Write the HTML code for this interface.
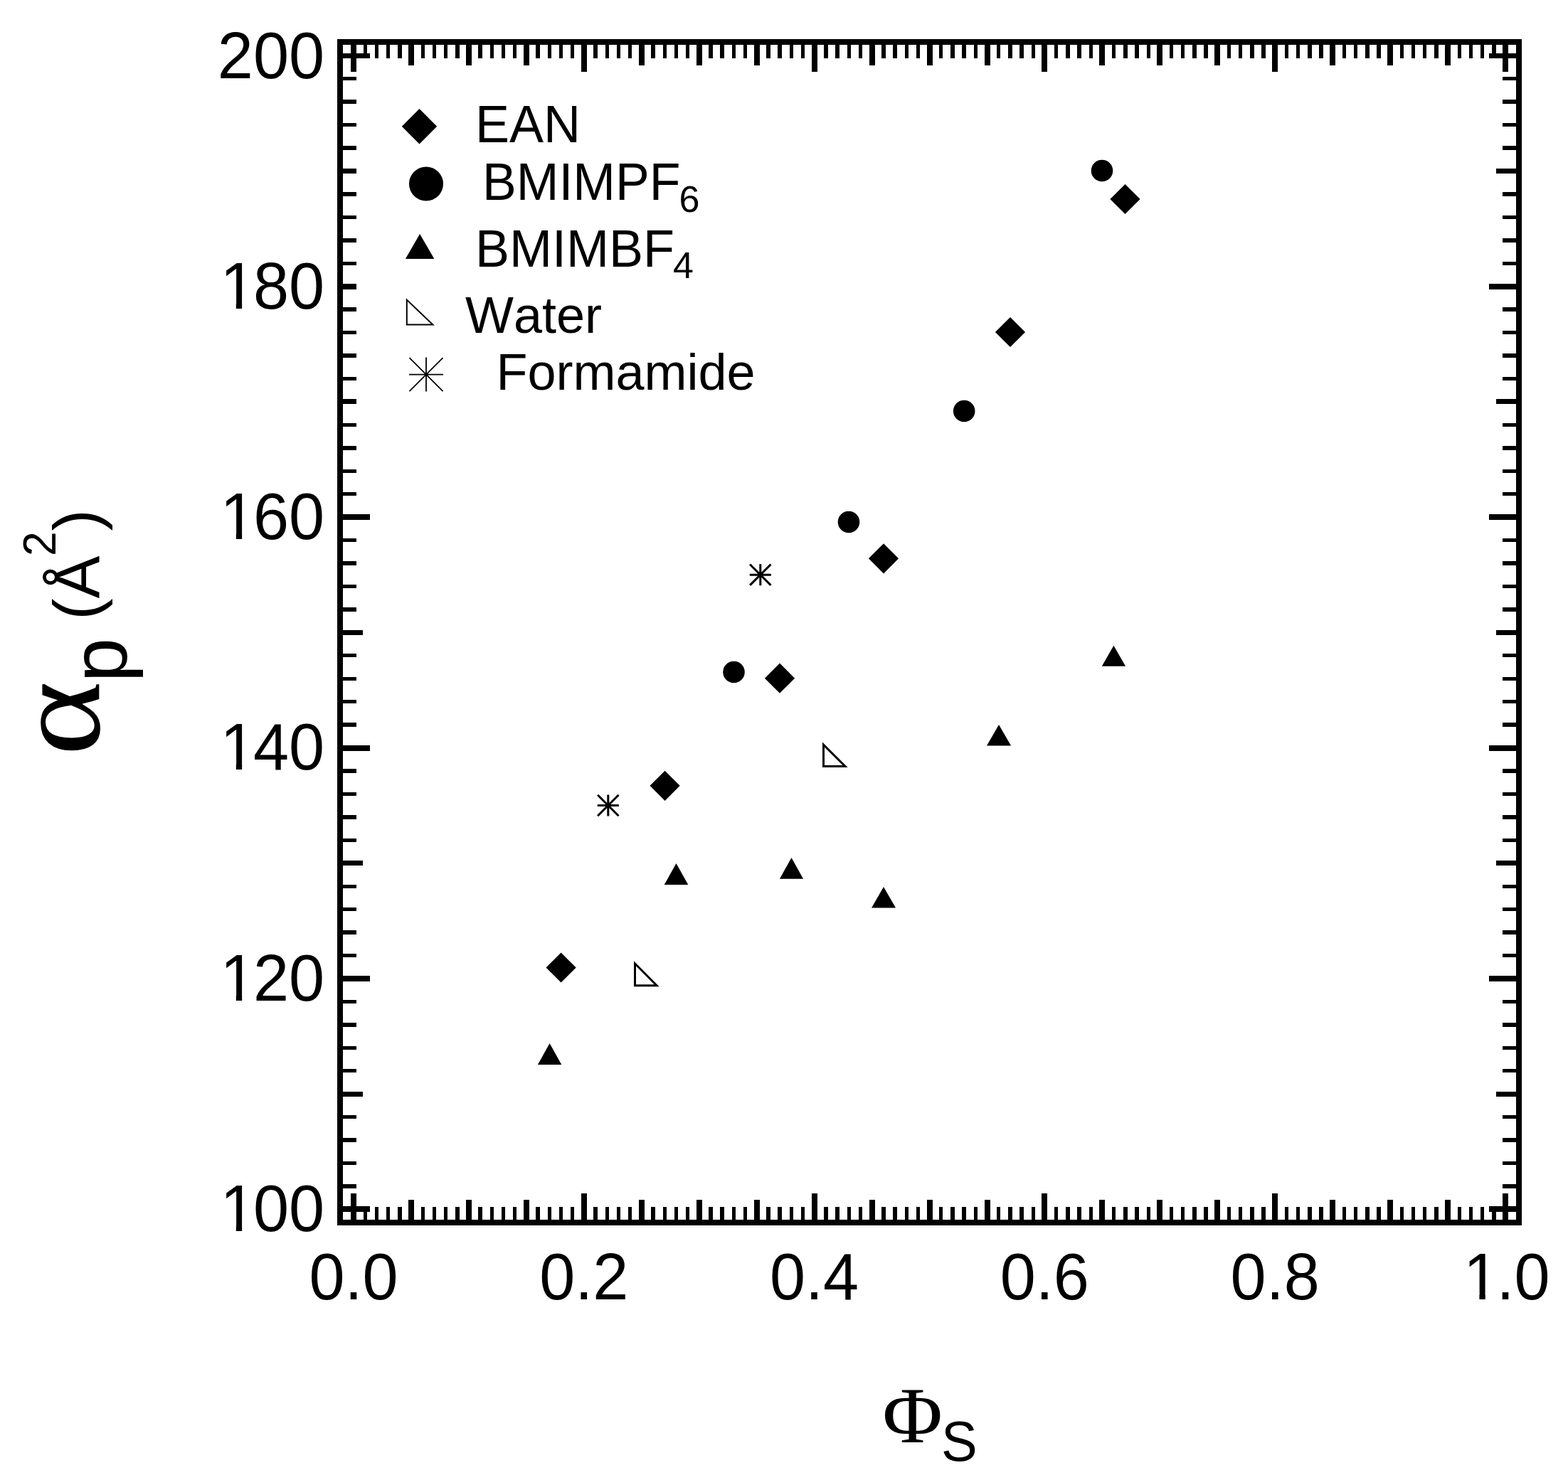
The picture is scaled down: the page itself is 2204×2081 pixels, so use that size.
<!DOCTYPE html>
<html lang="en"><head><meta charset="utf-8"><title>Plot</title>
<style>html,body{margin:0;padding:0;background:#fff}body{width:2204px;height:2081px;overflow:hidden}svg{display:block}text{font-family:"Liberation Sans",sans-serif;fill:#000;font-kerning:none}.sym{font-family:"Liberation Serif",serif}</style>
</head><body>
<svg width="2204" height="2081" viewBox="0 0 2204 2081">
<defs><clipPath id="nofoot"><path clip-rule="evenodd" d="M-20 -100H400V30H-20ZM8 -7.9H26.05V4H8ZM34.35 -7.9H51V4H34.35Z"/></clipPath></defs>
<rect x="0" y="0" width="2204" height="2081" fill="#fff"/>
<g shape-rendering="crispEdges" fill="#000">
<rect x="474" y="55" width="1665" height="8"/>
<rect x="474" y="1715" width="1665" height="8"/>
<rect x="474" y="55" width="8" height="1668"/>
<rect x="2131" y="55" width="8" height="1668"/>
<rect x="493" y="63" width="8" height="38"/>
<rect x="493" y="1678" width="8" height="37"/>
<rect x="511" y="63" width="5" height="19"/>
<rect x="511" y="1697" width="5" height="18"/>
<rect x="527" y="63" width="5" height="19"/>
<rect x="527" y="1697" width="5" height="18"/>
<rect x="543" y="63" width="5" height="19"/>
<rect x="543" y="1697" width="5" height="18"/>
<rect x="559" y="63" width="6" height="19"/>
<rect x="559" y="1697" width="6" height="18"/>
<rect x="574" y="63" width="8" height="29"/>
<rect x="574" y="1687" width="8" height="28"/>
<rect x="592" y="63" width="5" height="19"/>
<rect x="592" y="1697" width="5" height="18"/>
<rect x="608" y="63" width="5" height="19"/>
<rect x="608" y="1697" width="5" height="18"/>
<rect x="624" y="63" width="5" height="19"/>
<rect x="624" y="1697" width="5" height="18"/>
<rect x="640" y="63" width="6" height="19"/>
<rect x="640" y="1697" width="6" height="18"/>
<rect x="655" y="63" width="8" height="29"/>
<rect x="655" y="1687" width="8" height="28"/>
<rect x="672" y="63" width="6" height="19"/>
<rect x="672" y="1697" width="6" height="18"/>
<rect x="689" y="63" width="5" height="19"/>
<rect x="689" y="1697" width="5" height="18"/>
<rect x="705" y="63" width="5" height="19"/>
<rect x="705" y="1697" width="5" height="18"/>
<rect x="721" y="63" width="5" height="19"/>
<rect x="721" y="1697" width="5" height="18"/>
<rect x="736" y="63" width="8" height="29"/>
<rect x="736" y="1687" width="8" height="28"/>
<rect x="753" y="63" width="6" height="19"/>
<rect x="753" y="1697" width="6" height="18"/>
<rect x="770" y="63" width="5" height="19"/>
<rect x="770" y="1697" width="5" height="18"/>
<rect x="786" y="63" width="5" height="19"/>
<rect x="786" y="1697" width="5" height="18"/>
<rect x="802" y="63" width="5" height="19"/>
<rect x="802" y="1697" width="5" height="18"/>
<rect x="817" y="63" width="8" height="38"/>
<rect x="817" y="1678" width="8" height="37"/>
<rect x="834" y="63" width="6" height="19"/>
<rect x="834" y="1697" width="6" height="18"/>
<rect x="851" y="63" width="5" height="19"/>
<rect x="851" y="1697" width="5" height="18"/>
<rect x="867" y="63" width="5" height="19"/>
<rect x="867" y="1697" width="5" height="18"/>
<rect x="883" y="63" width="5" height="19"/>
<rect x="883" y="1697" width="5" height="18"/>
<rect x="898" y="63" width="8" height="29"/>
<rect x="898" y="1687" width="8" height="28"/>
<rect x="915" y="63" width="6" height="19"/>
<rect x="915" y="1697" width="6" height="18"/>
<rect x="932" y="63" width="5" height="19"/>
<rect x="932" y="1697" width="5" height="18"/>
<rect x="948" y="63" width="5" height="19"/>
<rect x="948" y="1697" width="5" height="18"/>
<rect x="964" y="63" width="5" height="19"/>
<rect x="964" y="1697" width="5" height="18"/>
<rect x="979" y="63" width="8" height="29"/>
<rect x="979" y="1687" width="8" height="28"/>
<rect x="996" y="63" width="6" height="19"/>
<rect x="996" y="1697" width="6" height="18"/>
<rect x="1012" y="63" width="6" height="19"/>
<rect x="1012" y="1697" width="6" height="18"/>
<rect x="1029" y="63" width="5" height="19"/>
<rect x="1029" y="1697" width="5" height="18"/>
<rect x="1045" y="63" width="5" height="19"/>
<rect x="1045" y="1697" width="5" height="18"/>
<rect x="1060" y="63" width="8" height="29"/>
<rect x="1060" y="1687" width="8" height="28"/>
<rect x="1077" y="63" width="6" height="19"/>
<rect x="1077" y="1697" width="6" height="18"/>
<rect x="1093" y="63" width="6" height="19"/>
<rect x="1093" y="1697" width="6" height="18"/>
<rect x="1110" y="63" width="5" height="19"/>
<rect x="1110" y="1697" width="5" height="18"/>
<rect x="1126" y="63" width="5" height="19"/>
<rect x="1126" y="1697" width="5" height="18"/>
<rect x="1141" y="63" width="8" height="38"/>
<rect x="1141" y="1678" width="8" height="37"/>
<rect x="1158" y="63" width="6" height="19"/>
<rect x="1158" y="1697" width="6" height="18"/>
<rect x="1174" y="63" width="6" height="19"/>
<rect x="1174" y="1697" width="6" height="18"/>
<rect x="1191" y="63" width="5" height="19"/>
<rect x="1191" y="1697" width="5" height="18"/>
<rect x="1207" y="63" width="5" height="19"/>
<rect x="1207" y="1697" width="5" height="18"/>
<rect x="1222" y="63" width="8" height="29"/>
<rect x="1222" y="1687" width="8" height="28"/>
<rect x="1239" y="63" width="6" height="19"/>
<rect x="1239" y="1697" width="6" height="18"/>
<rect x="1255" y="63" width="6" height="19"/>
<rect x="1255" y="1697" width="6" height="18"/>
<rect x="1272" y="63" width="5" height="19"/>
<rect x="1272" y="1697" width="5" height="18"/>
<rect x="1288" y="63" width="5" height="19"/>
<rect x="1288" y="1697" width="5" height="18"/>
<rect x="1303" y="63" width="8" height="29"/>
<rect x="1303" y="1687" width="8" height="28"/>
<rect x="1320" y="63" width="5" height="19"/>
<rect x="1320" y="1697" width="5" height="18"/>
<rect x="1336" y="63" width="6" height="19"/>
<rect x="1336" y="1697" width="6" height="18"/>
<rect x="1352" y="63" width="6" height="19"/>
<rect x="1352" y="1697" width="6" height="18"/>
<rect x="1369" y="63" width="5" height="19"/>
<rect x="1369" y="1697" width="5" height="18"/>
<rect x="1384" y="63" width="8" height="29"/>
<rect x="1384" y="1687" width="8" height="28"/>
<rect x="1401" y="63" width="5" height="19"/>
<rect x="1401" y="1697" width="5" height="18"/>
<rect x="1417" y="63" width="6" height="19"/>
<rect x="1417" y="1697" width="6" height="18"/>
<rect x="1433" y="63" width="6" height="19"/>
<rect x="1433" y="1697" width="6" height="18"/>
<rect x="1450" y="63" width="5" height="19"/>
<rect x="1450" y="1697" width="5" height="18"/>
<rect x="1464" y="63" width="8" height="38"/>
<rect x="1464" y="1678" width="8" height="37"/>
<rect x="1482" y="63" width="5" height="19"/>
<rect x="1482" y="1697" width="5" height="18"/>
<rect x="1498" y="63" width="6" height="19"/>
<rect x="1498" y="1697" width="6" height="18"/>
<rect x="1514" y="63" width="6" height="19"/>
<rect x="1514" y="1697" width="6" height="18"/>
<rect x="1531" y="63" width="5" height="19"/>
<rect x="1531" y="1697" width="5" height="18"/>
<rect x="1545" y="63" width="8" height="29"/>
<rect x="1545" y="1687" width="8" height="28"/>
<rect x="1563" y="63" width="5" height="19"/>
<rect x="1563" y="1697" width="5" height="18"/>
<rect x="1579" y="63" width="6" height="19"/>
<rect x="1579" y="1697" width="6" height="18"/>
<rect x="1595" y="63" width="6" height="19"/>
<rect x="1595" y="1697" width="6" height="18"/>
<rect x="1612" y="63" width="5" height="19"/>
<rect x="1612" y="1697" width="5" height="18"/>
<rect x="1626" y="63" width="8" height="29"/>
<rect x="1626" y="1687" width="8" height="28"/>
<rect x="1644" y="63" width="5" height="19"/>
<rect x="1644" y="1697" width="5" height="18"/>
<rect x="1660" y="63" width="5" height="19"/>
<rect x="1660" y="1697" width="5" height="18"/>
<rect x="1676" y="63" width="6" height="19"/>
<rect x="1676" y="1697" width="6" height="18"/>
<rect x="1692" y="63" width="6" height="19"/>
<rect x="1692" y="1697" width="6" height="18"/>
<rect x="1707" y="63" width="8" height="29"/>
<rect x="1707" y="1687" width="8" height="28"/>
<rect x="1725" y="63" width="5" height="19"/>
<rect x="1725" y="1697" width="5" height="18"/>
<rect x="1741" y="63" width="5" height="19"/>
<rect x="1741" y="1697" width="5" height="18"/>
<rect x="1757" y="63" width="6" height="19"/>
<rect x="1757" y="1697" width="6" height="18"/>
<rect x="1773" y="63" width="6" height="19"/>
<rect x="1773" y="1697" width="6" height="18"/>
<rect x="1788" y="63" width="8" height="38"/>
<rect x="1788" y="1678" width="8" height="37"/>
<rect x="1806" y="63" width="5" height="19"/>
<rect x="1806" y="1697" width="5" height="18"/>
<rect x="1822" y="63" width="5" height="19"/>
<rect x="1822" y="1697" width="5" height="18"/>
<rect x="1838" y="63" width="6" height="19"/>
<rect x="1838" y="1697" width="6" height="18"/>
<rect x="1854" y="63" width="6" height="19"/>
<rect x="1854" y="1697" width="6" height="18"/>
<rect x="1869" y="63" width="8" height="29"/>
<rect x="1869" y="1687" width="8" height="28"/>
<rect x="1887" y="63" width="5" height="19"/>
<rect x="1887" y="1697" width="5" height="18"/>
<rect x="1903" y="63" width="5" height="19"/>
<rect x="1903" y="1697" width="5" height="18"/>
<rect x="1919" y="63" width="6" height="19"/>
<rect x="1919" y="1697" width="6" height="18"/>
<rect x="1935" y="63" width="6" height="19"/>
<rect x="1935" y="1697" width="6" height="18"/>
<rect x="1950" y="63" width="8" height="29"/>
<rect x="1950" y="1687" width="8" height="28"/>
<rect x="1968" y="63" width="5" height="19"/>
<rect x="1968" y="1697" width="5" height="18"/>
<rect x="1984" y="63" width="5" height="19"/>
<rect x="1984" y="1697" width="5" height="18"/>
<rect x="2000" y="63" width="5" height="19"/>
<rect x="2000" y="1697" width="5" height="18"/>
<rect x="2016" y="63" width="6" height="19"/>
<rect x="2016" y="1697" width="6" height="18"/>
<rect x="2031" y="63" width="8" height="29"/>
<rect x="2031" y="1687" width="8" height="28"/>
<rect x="2049" y="63" width="5" height="19"/>
<rect x="2049" y="1697" width="5" height="18"/>
<rect x="2065" y="63" width="5" height="19"/>
<rect x="2065" y="1697" width="5" height="18"/>
<rect x="2081" y="63" width="5" height="19"/>
<rect x="2081" y="1697" width="5" height="18"/>
<rect x="2097" y="63" width="6" height="19"/>
<rect x="2097" y="1697" width="6" height="18"/>
<rect x="2112" y="63" width="8" height="38"/>
<rect x="2112" y="1678" width="8" height="37"/>
<rect x="482" y="1696" width="38" height="8"/>
<rect x="2093" y="1696" width="38" height="8"/>
<rect x="482" y="1665" width="19" height="6"/>
<rect x="2112" y="1665" width="19" height="6"/>
<rect x="482" y="1633" width="19" height="5"/>
<rect x="2112" y="1633" width="19" height="5"/>
<rect x="482" y="1600" width="19" height="6"/>
<rect x="2112" y="1600" width="19" height="6"/>
<rect x="482" y="1568" width="19" height="5"/>
<rect x="2112" y="1568" width="19" height="5"/>
<rect x="482" y="1535" width="28" height="7"/>
<rect x="2103" y="1535" width="28" height="7"/>
<rect x="482" y="1503" width="19" height="5"/>
<rect x="2112" y="1503" width="19" height="5"/>
<rect x="482" y="1471" width="19" height="5"/>
<rect x="2112" y="1471" width="19" height="5"/>
<rect x="482" y="1438" width="19" height="6"/>
<rect x="2112" y="1438" width="19" height="6"/>
<rect x="482" y="1406" width="19" height="5"/>
<rect x="2112" y="1406" width="19" height="5"/>
<rect x="482" y="1372" width="38" height="8"/>
<rect x="2093" y="1372" width="38" height="8"/>
<rect x="482" y="1341" width="19" height="5"/>
<rect x="2112" y="1341" width="19" height="5"/>
<rect x="482" y="1308" width="19" height="6"/>
<rect x="2112" y="1308" width="19" height="6"/>
<rect x="482" y="1276" width="19" height="5"/>
<rect x="2112" y="1276" width="19" height="5"/>
<rect x="482" y="1244" width="19" height="5"/>
<rect x="2112" y="1244" width="19" height="5"/>
<rect x="482" y="1210" width="28" height="7"/>
<rect x="2103" y="1210" width="28" height="7"/>
<rect x="482" y="1179" width="19" height="5"/>
<rect x="2112" y="1179" width="19" height="5"/>
<rect x="482" y="1146" width="19" height="6"/>
<rect x="2112" y="1146" width="19" height="6"/>
<rect x="482" y="1114" width="19" height="5"/>
<rect x="2112" y="1114" width="19" height="5"/>
<rect x="482" y="1081" width="19" height="6"/>
<rect x="2112" y="1081" width="19" height="6"/>
<rect x="482" y="1048" width="38" height="8"/>
<rect x="2093" y="1048" width="38" height="8"/>
<rect x="482" y="1016" width="19" height="6"/>
<rect x="2112" y="1016" width="19" height="6"/>
<rect x="482" y="984" width="19" height="5"/>
<rect x="2112" y="984" width="19" height="5"/>
<rect x="482" y="952" width="19" height="5"/>
<rect x="2112" y="952" width="19" height="5"/>
<rect x="482" y="919" width="19" height="5"/>
<rect x="2112" y="919" width="19" height="5"/>
<rect x="482" y="886" width="28" height="7"/>
<rect x="2103" y="886" width="28" height="7"/>
<rect x="482" y="854" width="19" height="6"/>
<rect x="2112" y="854" width="19" height="6"/>
<rect x="482" y="822" width="19" height="5"/>
<rect x="2112" y="822" width="19" height="5"/>
<rect x="482" y="789" width="19" height="6"/>
<rect x="2112" y="789" width="19" height="6"/>
<rect x="482" y="757" width="19" height="5"/>
<rect x="2112" y="757" width="19" height="5"/>
<rect x="482" y="723" width="38" height="8"/>
<rect x="2093" y="723" width="38" height="8"/>
<rect x="482" y="692" width="19" height="5"/>
<rect x="2112" y="692" width="19" height="5"/>
<rect x="482" y="660" width="19" height="5"/>
<rect x="2112" y="660" width="19" height="5"/>
<rect x="482" y="627" width="19" height="6"/>
<rect x="2112" y="627" width="19" height="6"/>
<rect x="482" y="595" width="19" height="5"/>
<rect x="2112" y="595" width="19" height="5"/>
<rect x="482" y="561" width="28" height="7"/>
<rect x="2103" y="561" width="28" height="7"/>
<rect x="482" y="530" width="19" height="5"/>
<rect x="2112" y="530" width="19" height="5"/>
<rect x="482" y="497" width="19" height="6"/>
<rect x="2112" y="497" width="19" height="6"/>
<rect x="482" y="465" width="19" height="5"/>
<rect x="2112" y="465" width="19" height="5"/>
<rect x="482" y="432" width="19" height="6"/>
<rect x="2112" y="432" width="19" height="6"/>
<rect x="482" y="399" width="38" height="8"/>
<rect x="2093" y="399" width="38" height="8"/>
<rect x="482" y="368" width="19" height="5"/>
<rect x="2112" y="368" width="19" height="5"/>
<rect x="482" y="335" width="19" height="6"/>
<rect x="2112" y="335" width="19" height="6"/>
<rect x="482" y="303" width="19" height="5"/>
<rect x="2112" y="303" width="19" height="5"/>
<rect x="482" y="270" width="19" height="6"/>
<rect x="2112" y="270" width="19" height="6"/>
<rect x="482" y="237" width="28" height="7"/>
<rect x="2103" y="237" width="28" height="7"/>
<rect x="482" y="205" width="19" height="6"/>
<rect x="2112" y="205" width="19" height="6"/>
<rect x="482" y="173" width="19" height="5"/>
<rect x="2112" y="173" width="19" height="5"/>
<rect x="482" y="140" width="19" height="6"/>
<rect x="2112" y="140" width="19" height="6"/>
<rect x="482" y="108" width="19" height="5"/>
<rect x="2112" y="108" width="19" height="5"/>
<rect x="482" y="75" width="38" height="7"/>
<rect x="2093" y="75" width="38" height="7"/>
</g>
<text transform="translate(305.8 1731.0) scale(1 1.04)" x="3.6 50.1 100.1" y="0" font-size="90" clip-path="url(#nofoot)">100</text>
<text transform="translate(305.8 1406.7) scale(1 1.04)" x="3.6 50.1 100.1" y="0" font-size="90" clip-path="url(#nofoot)">120</text>
<text transform="translate(305.8 1082.4) scale(1 1.04)" x="3.6 50.1 100.1" y="0" font-size="90" clip-path="url(#nofoot)">140</text>
<text transform="translate(305.8 758.1) scale(1 1.04)" x="3.6 50.1 100.1" y="0" font-size="90" clip-path="url(#nofoot)">160</text>
<text transform="translate(305.8 433.8) scale(1 1.04)" x="3.6 50.1 100.1" y="0" font-size="90" clip-path="url(#nofoot)">180</text>
<text transform="translate(456.0 109.5) scale(1.0 1.04)" font-size="90" text-anchor="end">200</text>
<text transform="translate(434.4 1827.0) scale(1.0 1.04)" font-size="90">0.0</text>
<text transform="translate(758.2 1827.0) scale(1.0 1.04)" font-size="90">0.2</text>
<text transform="translate(1082.0 1827.0) scale(1.0 1.04)" font-size="90">0.4</text>
<text transform="translate(1405.8 1827.0) scale(1.0 1.04)" font-size="90">0.6</text>
<text transform="translate(1729.6 1827.0) scale(1.0 1.04)" font-size="90">0.8</text>
<text transform="translate(2053.4 1827.0) scale(1 1.04)" x="3.6 50.1 75.1" y="0" font-size="90" clip-path="url(#nofoot)">1.0</text>
<text transform="translate(1240.5 2028.0) scale(1.03 1.0)" font-size="112" class="sym">Φ</text>
<text transform="translate(1323.0 2054.0) scale(1.0 1.04)" font-size="76">S</text>
<g transform="translate(140,1060) rotate(-90)">
<text transform="translate(-3.0 -0.7) scale(1.156 1.0)" font-size="174.5" class="sym">α</text>
<text x="100.7" y="38.0" font-size="112">p</text>
<text x="188.5" y="-1.0" font-size="90">(</text>
<text x="218.5" y="-1.0" font-size="90">Å</text>
<text transform="translate(278.0 -62.0) scale(1.0 1.04)" font-size="62.5">2</text>
<text x="313.5" y="-1.0" font-size="90">)</text>
</g>
<rect x="501" y="102" width="600" height="500" fill="#fff" shape-rendering="crispEdges"/>
<g fill="#000">
<path d="M564.8 177.7L589.5 152.9L614.2 177.7L589.5 202.4Z"/>
<circle cx="599" cy="258.5" r="24"/>
<path d="M569.9 364.0L590.1 329.0L610.4 364.0Z"/>
<path d="M571.8 421.5L571.8 456.6L608.4 456.6Z" fill="none" stroke="#000" stroke-width="2" stroke-linejoin="miter"/>
<path d="M575.0 526.6H623.0M599.0 502.6V550.6M575.5 503.1L622.5 550.1M575.5 550.1L622.5 503.1" fill="none" stroke="#000" stroke-width="1.8"/>
</g>
<text transform="translate(668.0 200.0) scale(1.0 1.04)" font-size="72">EAN</text>
<text transform="translate(678.0 281.0) scale(0.995 1.04)" font-size="72">BMIMPF</text>
<text x="954.5" y="297.5" font-size="52">6</text>
<text transform="translate(668.0 374.6) scale(1.0 1.04)" font-size="72">BMIMBF</text>
<text x="946.0" y="391.0" font-size="52">4</text>
<text x="654.0" y="468.2" font-size="72">Water</text>
<text x="697.5" y="548.2" font-size="72">Formamide</text>
<g fill="#000">
<path d="M1560.4 280.0L1581.5 258.9L1602.6 280.0L1581.5 301.1Z"/>
<path d="M1398.9 467.0L1420.0 445.9L1441.1 467.0L1420.0 488.1Z"/>
<path d="M1220.9 785.3L1242.0 764.2L1263.1 785.3L1242.0 806.4Z"/>
<path d="M1074.9 953.7L1096.0 932.6L1117.1 953.7L1096.0 974.8Z"/>
<path d="M913.5 1104.8L934.6 1083.7L955.7 1104.8L934.6 1125.9Z"/>
<path d="M767.5 1360.5L788.6 1339.4L809.7 1360.5L788.6 1381.6Z"/>
<circle cx="1549" cy="240" r="15.3"/>
<circle cx="1355.2" cy="578" r="15.3"/>
<circle cx="1193" cy="734" r="15.3"/>
<circle cx="1031.5" cy="945" r="15.3"/>
<path d="M1548.8 936.8L1565.4 907.8L1582.1 936.8Z"/>
<path d="M1387.0 1048.5L1404.0 1018.9L1421.1 1048.5Z"/>
<path d="M1095.9 1235.7L1112.5 1206.1L1129.1 1235.7Z"/>
<path d="M1225.1 1276.5L1242.0 1246.9L1259.0 1276.5Z"/>
<path d="M933.7 1243.9L950.5 1214.0L967.3 1243.9Z"/>
<path d="M755.9 1497.0L772.6 1467.1L789.3 1497.0Z"/>
<path d="M1157.5 1047.2L1157.5 1077.5L1188.0 1077.5Z" fill="none" stroke="#000" stroke-width="3" stroke-linejoin="miter"/>
<path d="M892.5 1354.8L892.5 1385.7L923.1 1385.7Z" fill="none" stroke="#000" stroke-width="3" stroke-linejoin="miter"/>
<path d="M1053.8 808.2H1083.8M1068.8 793.2V823.2M1054.1 793.5L1083.5 822.9M1054.1 822.9L1083.5 793.5" fill="none" stroke="#000" stroke-width="3"/>
<path d="M839.8 1132.5H869.8M854.8 1117.5V1147.5M840.1 1117.8L869.5 1147.2M840.1 1147.2L869.5 1117.8" fill="none" stroke="#000" stroke-width="3"/>
</g>
</svg>
</body></html>
